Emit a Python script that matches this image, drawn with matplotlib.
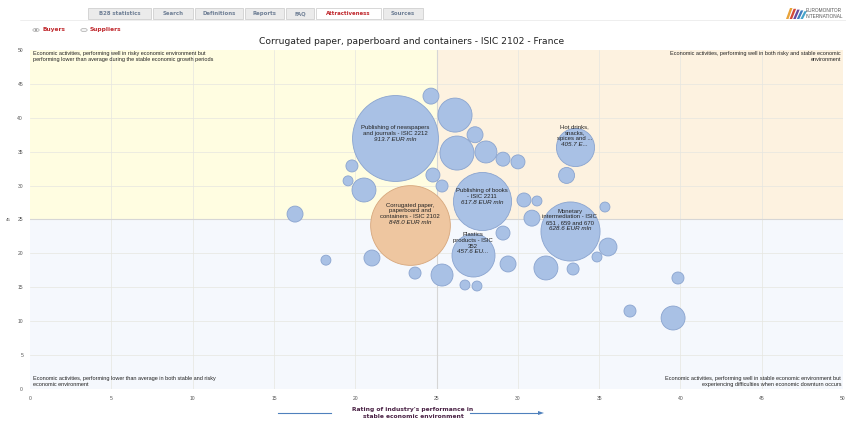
import matplotlib
matplotlib.use("Agg")
import matplotlib.pyplot as plt
from matplotlib.patches import Rectangle, Circle, Polygon
import numpy as np

# ---------------- data ----------------
title = "Corrugated paper, paperboard and containers - ISIC 2102 - France"

# labelled bubbles
lab_names = [
    "Publishing of newspapers\nand journals - ISIC 2212",
    "Corrugated paper,\npaperboard and\ncontainers - ISIC 2102",
    "Publishing of books\n- ISIC 2211",
    "Monetary\nintermediation - ISIC\n651 , 659 and 670",
    "Plastics\nproducts - ISIC\n352",
    "Hot drinks,\nsnacks,\nspices and ...",
]
lab_values_txt = ["913.7 EUR mln", "848.0 EUR mln", "617.8 EUR mln",
                  "628.6 EUR mln", "457.6 EU...", "405.7 E..."]
lab_x = [22.45, 23.37, 27.8, 33.2, 27.25, 33.5]
lab_y = [37.0, 24.2, 27.7, 23.3, 19.8, 35.7]
lab_v = [913.7, 848.0, 617.8, 628.6, 457.6, 405.7]
lab_focus = [False, True, False, False, False, False]

# unlabelled bubbles (x, y, estimated value)
oth_x = [24.66, 26.14, 27.37, 26.26, 28.04, 29.09, 30.01, 19.8, 19.56, 20.54,
         24.78, 25.34, 30.38, 31.18, 30.87, 29.09, 33.0, 35.36, 35.55, 34.87,
         33.4, 31.73, 29.4, 25.34, 26.75, 27.49, 39.85, 39.55, 36.9, 16.3,
         18.2, 21.03, 23.68]
oth_y = [43.2, 40.4, 37.5, 34.8, 34.96, 33.9, 33.5, 32.9, 30.7, 29.35,
         31.56, 29.94, 27.88, 27.73, 25.2, 23.0, 31.5, 26.84, 20.94, 19.47,
         17.7, 17.85, 18.44, 16.81, 15.34, 15.19, 16.37, 10.47, 11.5, 25.8,
         19.0, 19.32, 17.1]
oth_v = [170, 362, 170, 362, 234, 149, 149, 128, 106, 255,
         149, 128, 149, 106, 170, 149, 170, 106, 190, 106,
         128, 255, 170, 234, 106, 106, 128, 255, 128, 170,
         106, 170, 128]

x_ticks = [0, 5, 10, 15, 20, 25, 30, 35, 40, 45, 50]
y_ticks = [0, 5, 10, 15, 20, 25, 30, 35, 40, 45, 50]

tabs = ["B28 statistics", "Search", "Definitions", "Reports", "FAQ",
        "Attractiveness", "Sources"]
active_tab = "Attractiveness"

q_tl = "Economic activities, performing well in risky economic environment but\nperforming lower than average during the stable economic growth periods"
q_tr = "Economic activities, performing well in both risky and stable economic\nenvironment"
q_bl = "Economic activities, performing lower than average in both stable and risky\neconomic environment"
q_br = "Economic activities, performing well in stable economic environment but\nexperiencing difficulties when economic downturn occurs"
x_title = "Rating of industry's performance in\nstable economic environment"

# ---------------- figure ----------------
W, H = 846, 426
DPI = 100
fig = plt.figure(figsize=(W / DPI, H / DPI), dpi=DPI)
fig.patch.set_facecolor("white")

def fx(px):
    return px / W

def fy(py):
    return 1 - py / H

SANS = ["Liberation Sans", "DejaVu Sans"]

# axes: x 0..50 -> px 30..843, y 0..50 -> px 389..50
ax = fig.add_axes([fx(30), fy(389), (843 - 30) / W, (389 - 50) / H])
ax.set_xlim(0, 50)
ax.set_ylim(0, 50)
for s in ax.spines.values():
    s.set_visible(False)

# quadrants
ax.add_patch(Rectangle((0, 25), 25, 25, facecolor="#fffde1", edgecolor="none", zorder=0))
ax.add_patch(Rectangle((25, 25), 25, 25, facecolor="#fdf2e0", edgecolor="none", zorder=0))
ax.add_patch(Rectangle((0, 0), 50, 25, facecolor="#f5f8fd", edgecolor="none", zorder=0))
for t in x_ticks[1:-1]:
    ax.axvline(t, color="#e6e6e0", lw=0.5, zorder=0.5)
for t in y_ticks[1:-1]:
    ax.axhline(t, color="#e6e6e0", lw=0.5, zorder=0.5)
ax.axvline(25, color="#d6d6d6", lw=0.8, zorder=0.6)
ax.axhline(25, color="#d6d6d6", lw=0.8, zorder=0.6)

ax.set_xticks(x_ticks)
ax.set_yticks(y_ticks)
ax.set_xticklabels([str(t) for t in x_ticks], fontsize=3.6, color="#555555", family=SANS)
ax.set_yticklabels([str(t) for t in y_ticks], fontsize=3.6, color="#555555", family=SANS)
ax.tick_params(length=0, pad=5)

# bubbles: radius (px) proportional to value
K = 0.047
def size_of(v):
    r_px = K * np.asarray(v, dtype=float)
    return (2 * r_px * 72 / DPI) ** 2

ax.scatter(oth_x, oth_y, s=size_of(oth_v), facecolor="#a9c1e5", edgecolor="#8aa4cf",
           linewidth=0.6, zorder=2, clip_on=False)
for xx, yy, vv, foc in zip(lab_x, lab_y, lab_v, lab_focus):
    fc = "#eec6a0" if foc else "#a9c1e5"
    ec = "#d7a77c" if foc else "#8aa4cf"
    ax.scatter([xx], [yy], s=size_of([vv]), facecolor=fc, edgecolor=ec,
               linewidth=0.6, zorder=3)

# labels
for name, vt, xx, yy in zip(lab_names, lab_values_txt, lab_x, lab_y):
    n_total = name.count("\n") + 2
    lh_pt = 5.6
    off = (n_total / 2 - 1) * lh_pt - 1.2
    ax.annotate(name, (xx, yy), xytext=(0, off), textcoords="offset points",
                ha="center", va="bottom", fontsize=4.3, family=SANS,
                color="#222222", linespacing=1.15, zorder=5)
    ax.annotate(vt, (xx, yy), xytext=(0, off - 0.6), textcoords="offset points",
                ha="center", va="top", fontsize=4.5, family=SANS, style="italic",
                color="#222222", zorder=5)

# quadrant texts
qkw = dict(fontsize=4.0, family=SANS, color="#222222", linespacing=1.3, zorder=6)
fig.text(fx(33), fy(51), q_tl, ha="left", va="top", **qkw)
fig.text(fx(841), fy(51), q_tr, ha="right", va="top", multialignment="right", **qkw)
fig.text(fx(33), fy(387), q_bl, ha="left", va="bottom", **qkw)
fig.text(fx(841), fy(387), q_br, ha="right", va="bottom", multialignment="right", **qkw)

# title
fig.text(fx(412), fy(42), title, ha="center", va="center", fontsize=6.6,
         family="DejaVu Sans", color="#222222")

# x axis title with arrows
fig.text(fx(413), fy(413), x_title, ha="center", va="center", fontsize=4.3,
         family="DejaVu Sans", weight="bold", color="#4a2245", linespacing=1.25)
fig.add_artist(plt.Line2D([fx(278), fx(331)], [fy(413), fy(413)], color="#4f81bd", lw=0.8))
fig.add_artist(plt.Line2D([fx(470), fx(540)], [fy(413), fy(413)], color="#4f81bd", lw=0.8))
fig.add_artist(Polygon([[fx(544), fy(413)], [fx(538), fy(411)], [fx(538), fy(415)]],
                       closed=True, facecolor="#4f81bd", edgecolor="none",
                       transform=fig.transFigure))

# y axis tiny label
fig.text(fx(8), fy(220), "45", ha="center", va="center", fontsize=3.2,
         family=SANS, color="#555555")

# tab bar
tab_px = [(88, 151), (153, 193), (195, 243), (245, 284), (286, 314), (316, 381), (383, 423)]
for (x0, x1), t in zip(tab_px, tabs):
    active = (t == active_tab)
    fig.add_artist(Rectangle((fx(x0), fy(19)), (x1 - x0) / W, 11 / H,
                             transform=fig.transFigure,
                             facecolor="white" if active else "#ebebeb",
                             edgecolor="#c8c8c8", lw=0.5))
    fig.text(fx((x0 + x1) / 2), fy(13.5), t, ha="center", va="center",
             fontsize=3.9, family="DejaVu Sans", weight="bold",
             color="#c0282d" if active else "#6f7f95")
fig.add_artist(plt.Line2D([fx(20), fx(846)], [fy(19.5), fy(19.5)], color="#e2e2e2", lw=0.4))

# radio buttons
for cx, lbl, sel in [(36, "Buyers", True), (84, "Suppliers", False)]:
    fig.add_artist(Circle((fx(cx), fy(30)), 3.2 / W, transform=fig.transFigure,
                          facecolor="#f4f4f4", edgecolor="#9a9a9a", lw=0.4))
    if sel:
        fig.add_artist(Circle((fx(cx), fy(30)), 1.0 / W, transform=fig.transFigure,
                              facecolor="#333333", edgecolor="none"))
    fig.text(fx(cx + 6), fy(30), lbl, ha="left", va="center", fontsize=4.2,
             family="DejaVu Sans", weight="bold", color="#c0282d")

# logo
stripe_cols = ["#e8a33a", "#d2493a", "#6a4a9c", "#3f7dbf", "#47a3c9"]
for i, c in enumerate(stripe_cols):
    x0 = 786 + i * 3.6
    fig.add_artist(Polygon([[fx(x0), fy(19)], [fx(x0 + 4), fy(8 + i * 0.8)],
                            [fx(x0 + 6.5), fy(8 + i * 0.8)], [fx(x0 + 2.5), fy(19)]],
                           closed=True, facecolor=c, edgecolor="none",
                           transform=fig.transFigure))
fig.text(fx(806), fy(13.5), "EUROMONITOR\nINTERNATIONAL", ha="left", va="center",
         fontsize=3.4, family=SANS, color="#555555", linespacing=1.0)

fig.savefig("out.png", dpi=DPI)
